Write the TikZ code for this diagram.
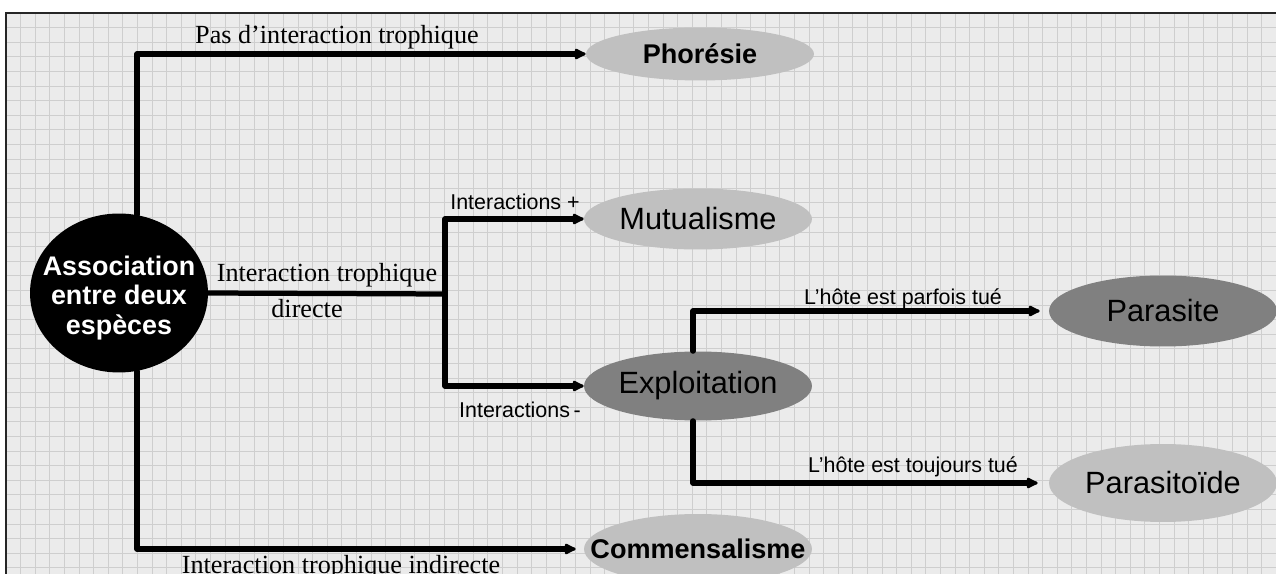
\documentclass[tikz,border=0pt]{standalone}
\usepackage{fontspec}
\setmainfont{Liberation Serif}
\setsansfont{Liberation Sans}
\usetikzlibrary{arrows.meta, shapes.geometric}
\definecolor{paperbg}{RGB}{235,235,235}
\definecolor{gridgray}{RGB}{206,206,206}
\definecolor{ovallight}{RGB}{192,192,192}
\definecolor{ovaldark}{RGB}{128,128,128}

\begin{document}
\begin{tikzpicture}[
  x=0.02cm, y=-0.02cm,
  > = {Latex[length=0.28cm, width=0.27cm, round]},
  link/.style = {->, line width=0.105cm, line join=round, line cap=round},
  trunk/.style = {line width=0.105cm, line cap=round},
  gridline/.style = {gridgray, line width=0.4pt},
  oval/.style = {ellipse, inner sep=0pt, minimum width=4.56cm},
  big/.style = {font=\sffamily\fontsize{17.5}{20}\selectfont},
  bigbold/.style = {font=\sffamily\bfseries\fontsize{15.4}{18}\selectfont},
  serif lbl/.style = {anchor=base, inner sep=0pt, font=\rmfamily\fontsize{14.9}{17}\selectfont},
  sans lbl/.style = {anchor=base, inner sep=0pt, font=\sffamily\fontsize{12.2}{14}\selectfont}
]
  \useasboundingbox (0,0) rectangle (1276,574);
  \clip (0,0) rectangle (1276,574);

  % squared paper
  \fill[paperbg] (6,13) rectangle (1280,580);
  \foreach \gx in {1,...,87}
    \draw[gridline] ({6+14.6*\gx},13) -- ({6+14.6*\gx},580);
  \foreach \gy in {1,...,39}
    \draw[gridline] (6,{13+14.6*\gy}) -- (1280,{13+14.6*\gy});
  \draw[black!85, line width=1.2pt] (6,580) -- (6,13) -- (1280,13);

  % nodes
  \node[ellipse, fill=black, inner sep=0pt, minimum width=3.56cm, minimum height=3.18cm] (assoc) at (119,293) {};
  \node[white, align=center, font=\sffamily\bfseries\fontsize{15.3}{17}\selectfont] (assoc-t) at (119,298)
    {Association\\entre deux\\espèces};

  \node[oval, fill=ovallight, minimum height=1.06cm, bigbold] (phor) at (700,54) {\makebox[0pt]{Phorésie}};
  \node[oval, fill=ovallight, minimum height=1.22cm, big] (mutu) at (698,219) {\makebox[0pt]{Mutualisme}};
  \node[oval, fill=ovaldark, minimum height=1.38cm, big] (expl) at (698,386) {\makebox[0pt]{Exploitation}};
  \node[oval, fill=ovallight, minimum height=1.40cm, bigbold] (comm) at (698,549) {\makebox[0pt]{Commensalisme}};
  \node[oval, fill=ovaldark, minimum height=1.42cm, big] (para) at (1163,311) {\makebox[0pt]{Parasite}};
  \node[oval, fill=ovallight, minimum height=1.56cm, big] (paroid) at (1163,483) {\makebox[0pt]{Parasitoïde}};

  \coordinate (split) at (445,294);

  % connectors
  \draw[link] (assoc.77) |- (phor.west);
  \draw[link, shorten >=0.16cm] (assoc.-77) |- (comm.west);
  \draw[trunk] (assoc.east) -- (split);
  \draw[link] (split) |- (mutu.west);
  \draw[link] (split) |- (expl.west);
  \draw[link, shorten >=0.18cm] ([xshift=-0.1cm]expl.north) |- (para.west);
  \draw[link, shorten >=0.22cm] ([xshift=-0.1cm]expl.south) |- (paroid.west);

  % labels
  \node[serif lbl] (lbl-pas) at (337,44) {Pas d’interaction trophique};
  \node[serif lbl] (lbl-troph) at (327,282) {Interaction trophique};
  \node[serif lbl] (lbl-dir) at (307,318) {directe};
  \node[serif lbl] (lbl-indir) at (341,574) {Interaction trophique indirecte};
  \node[sans lbl] (lbl-plus) at (515,210) {Interactions +};
  \node[sans lbl] (lbl-minus) at (520,418) {Interactions\,-};
  \node[sans lbl] (lbl-parfois) at (903,305) {L’hôte est parfois tué};
  \node[sans lbl] (lbl-toujours) at (913,473) {L’hôte est toujours tué};
\end{tikzpicture}
\end{document}
